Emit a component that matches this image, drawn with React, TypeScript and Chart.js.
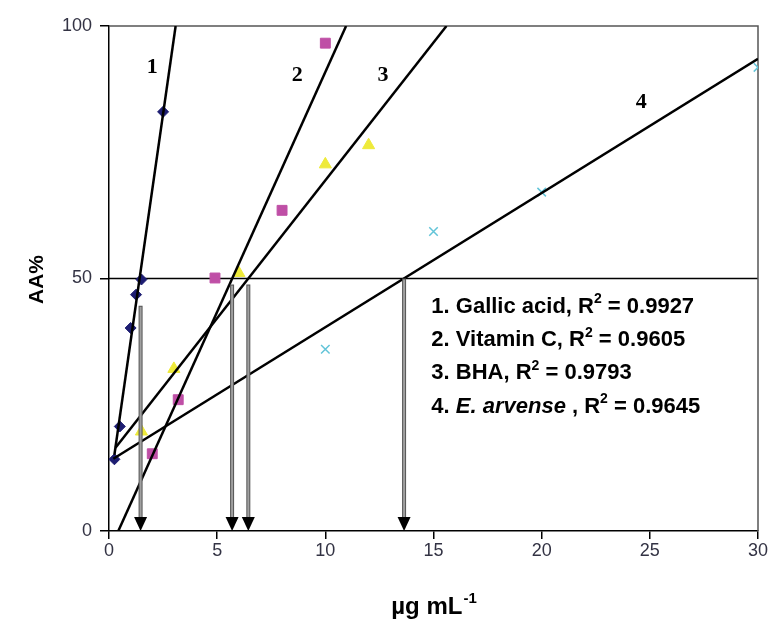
import React, { useEffect, useRef } from 'react';
import { Chart, registerables } from 'chart.js';

Chart.register(...registerables);

// Measured points (µg/mL, AA%)
const gallicX = [0.25, 0.5, 1.0, 1.25, 1.5, 2.5];
const gallicY = [14.2, 20.7, 40.2, 46.8, 49.8, 83.0];
const vitCX = [2, 3.2, 4.9, 8, 10];
const vitCY = [15.3, 26.0, 50.1, 63.5, 96.6];
const bhaX = [1.5, 3, 6, 10, 12];
const bhaY = [19.7, 32.1, 51.1, 72.6, 76.4];
const arvX = [10, 15, 20, 30];
const arvY = [36.0, 59.3, 67.1, 91.8];

// Trend line end points
const trend1X = [0.25, 3.08];
const trend1Y = [15.1, 100];
const trend2X = [0.43, 10.96];
const trend2Y = [0, 100];
const trend3X = [0.3, 15.6];
const trend3Y = [16.5, 100];
const trend4X = [0.2, 30];
const trend4Y = [14.3, 93.5];

// IC50 arrows
const ic50X = [1.46, 5.69, 6.44, 13.64];
const arrowTopY = [44.6, 48.8, 48.8, 50];

// Curve number labels
const numLabels = ['1', '2', '3', '4'];
const numLabelX = [2.0, 8.7, 12.67, 24.6];
const numLabelY = [91.9, 90.3, 90.3, 84.8];

// Legend text
const legendPrefix = ['1. Gallic acid', '2. Vitamin C', '3. BHA', '4. '];
const legendItalic = ['', '', '', 'E. arvense'];
const legendR2 = ['0.9927', '0.9605', '0.9793', '0.9645'];
const legendX = 14.9;
const legendYs = [44.8, 38.2, 31.7, 25.0];

const xTicksMin = 0;
const xTicksMax = 30;
const yTicksMin = 0;
const yTicksMax = 100;

const SANS = 'Arial, "Liberation Sans", sans-serif';
const SERIF = '"Times New Roman", "Liberation Serif", serif';

const pts = (xs: number[], ys: number[]) => xs.map((x, i) => ({ x, y: ys[i] }));

export default function App() {
  const ref = useRef<HTMLCanvasElement>(null);

  useEffect(() => {
    const canvas = ref.current!;

    const overlay = {
      id: 'overlay',
      beforeDatasetsDraw(chart: any) {
        const { ctx, chartArea: a, scales } = chart;
        ctx.save();
        const y50 = scales.y.getPixelForValue(50);
        ctx.strokeStyle = '#000';
        ctx.lineWidth = 1.5;
        ctx.beginPath();
        ctx.moveTo(a.left, y50);
        ctx.lineTo(a.right, y50);
        ctx.stroke();
        ctx.strokeStyle = '#555';
        ctx.lineWidth = 1.5;
        ctx.beginPath();
        ctx.moveTo(a.left, a.top);
        ctx.lineTo(a.right, a.top);
        ctx.lineTo(a.right, a.bottom);
        ctx.stroke();
        ctx.restore();
      },
      afterDatasetsDraw(chart: any) {
        const { ctx, chartArea: a, scales } = chart;
        const xs = scales.x;
        const ys = scales.y;
        ctx.save();
        // arrows
        ic50X.forEach((v, i) => {
          const px = xs.getPixelForValue(v);
          const top = ys.getPixelForValue(arrowTopY[i]);
          const tip = ys.getPixelForValue(0);
          const headH = 14;
          const headW = 6.5;
          ctx.lineCap = 'butt';
          ctx.strokeStyle = '#555';
          ctx.lineWidth = 4;
          ctx.beginPath();
          ctx.moveTo(px, top);
          ctx.lineTo(px, tip - headH + 1);
          ctx.stroke();
          ctx.strokeStyle = '#a0a0a0';
          ctx.lineWidth = 2;
          ctx.beginPath();
          ctx.moveTo(px, top + 1);
          ctx.lineTo(px, tip - headH + 1);
          ctx.stroke();
          ctx.fillStyle = '#000';
          ctx.beginPath();
          ctx.moveTo(px - headW, tip - headH);
          ctx.lineTo(px + headW, tip - headH);
          ctx.lineTo(px, tip);
          ctx.closePath();
          ctx.fill();
        });
        // number labels
        ctx.fillStyle = '#000';
        ctx.font = `bold 22px ${SERIF}`;
        ctx.textAlign = 'center';
        ctx.textBaseline = 'middle';
        numLabels.forEach((t, i) => {
          ctx.fillText(t, xs.getPixelForValue(numLabelX[i]), ys.getPixelForValue(numLabelY[i]));
        });
        // legend text
        ctx.textAlign = 'left';
        ctx.textBaseline = 'alphabetic';
        const fs = 22;
        legendPrefix.forEach((pre, i) => {
          let x = xs.getPixelForValue(legendX);
          const yb = ys.getPixelForValue(legendYs[i]) + fs * 0.36;
          const seg = (t: string, font: string, dy = 0) => {
            ctx.font = font;
            ctx.fillText(t, x, yb + dy);
            x += ctx.measureText(t).width;
          };
          seg(pre, `bold ${fs}px ${SANS}`);
          if (legendItalic[i]) seg(legendItalic[i], `italic bold ${fs}px ${SANS}`);
          seg(legendItalic[i] ? ' , R' : ', R', `bold ${fs}px ${SANS}`);
          seg('2', `bold ${Math.round(fs * 0.62)}px ${SANS}`, -fs * 0.42);
          seg(' = ' + legendR2[i], `bold ${fs}px ${SANS}`);
        });
        // axis titles
        ctx.fillStyle = '#000';
        ctx.font = `bold 21px ${SANS}`;
        ctx.save();
        ctx.translate(37, (a.top + a.bottom) / 2 + 1);
        ctx.rotate(-Math.PI / 2);
        ctx.textAlign = 'center';
        ctx.textBaseline = 'middle';
        ctx.fillText('AA%', 0, 0);
        ctx.restore();
        ctx.textAlign = 'left';
        ctx.textBaseline = 'alphabetic';
        const main = 'µg mL';
        const sup = '-1';
        ctx.font = `bold 24px ${SANS}`;
        const wMain = ctx.measureText(main).width;
        ctx.font = `bold 15px ${SANS}`;
        const wSup = ctx.measureText(sup).width;
        const cx = (a.left + a.right) / 2;
        const startX = cx - (wMain + wSup) / 2;
        const base = 614;
        ctx.font = `bold 24px ${SANS}`;
        ctx.fillText(main, startX, base);
        ctx.font = `bold 15px ${SANS}`;
        ctx.fillText(sup, startX + wMain + 1, base - 11);
        ctx.restore();
      },
    };

    const lineStyle = { borderColor: '#000', borderWidth: 2.5, pointRadius: 0, showLine: true, fill: false, order: 0 };

    const chart = new Chart(canvas, {
      type: 'scatter',
      data: {
        datasets: [
          { label: 'T1', data: pts(trend1X, trend1Y), ...lineStyle },
          { label: 'T2', data: pts(trend2X, trend2Y), ...lineStyle },
          { label: 'T3', data: pts(trend3X, trend3Y), ...lineStyle },
          { label: 'T4', data: pts(trend4X, trend4Y), ...lineStyle },
          {
            label: 'Gallic acid', data: pts(gallicX, gallicY), pointStyle: 'rectRot', pointRadius: 5.5,
            backgroundColor: '#1d1d72', borderColor: '#1d1d72', borderWidth: 1, order: 1,
          },
          {
            label: 'Vitamin C', data: pts(vitCX, vitCY), pointStyle: 'rect', pointRadius: 7,
            backgroundColor: '#bf4fa6', borderColor: '#bf4fa6', borderWidth: 1, order: 1,
          },
          {
            label: 'BHA', data: pts(bhaX, bhaY), pointStyle: 'triangle', pointRadius: 7,
            backgroundColor: '#eeea3a', borderColor: '#eeea3a', borderWidth: 1, order: 1,
          },
          {
            label: 'E. arvense', data: pts(arvX, arvY), pointStyle: 'crossRot', pointRadius: 6,
            backgroundColor: '#62c4d8', borderColor: '#62c4d8', borderWidth: 1.5, order: 1,
          },
        ],
      } as any,
      options: {
        responsive: false,
        animation: false,
        events: [],
        layout: { padding: { left: 0, top: 26, right: 13, bottom: 0 } },
        plugins: { legend: { display: false }, tooltip: { enabled: false }, title: { display: false } },
        scales: {
          x: {
            type: 'linear',
            min: xTicksMin,
            max: xTicksMax,
            ticks: { stepSize: 5, color: '#333344', font: { family: SANS, size: 18 }, padding: 1 },
            grid: { drawOnChartArea: false, drawTicks: true, tickLength: 8, color: '#000', lineWidth: 1.5 },
            border: { color: '#000', width: 1.5 },
            afterFit: (s: any) => { s.height = 97; },
          },
          y: {
            type: 'linear',
            min: yTicksMin,
            max: yTicksMax,
            ticks: { stepSize: 50, color: '#333344', font: { family: SANS, size: 18 }, padding: 8 },
            grid: { drawOnChartArea: false, drawTicks: true, tickLength: 9, color: '#000', lineWidth: 1.5 },
            border: { color: '#000', width: 1.5 },
            afterFit: (s: any) => { s.width = 109; },
          },
        },
      } as any,
      plugins: [overlay],
    });

    return () => chart.destroy();
  }, []);

  return (
    <canvas
      ref={ref}
      width={771}
      height={628}
      style={{ position: 'fixed', left: 0, top: 0, width: 771, height: 628, background: '#fff' }}
    />
  );
}
